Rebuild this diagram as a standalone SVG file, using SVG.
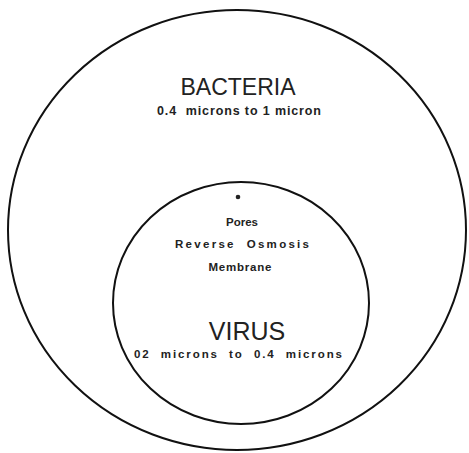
<svg xmlns="http://www.w3.org/2000/svg" width="469" height="453" viewBox="0 0 469 453">
<style>
.ring{fill:none;stroke:#111;stroke-width:2}
.big{font-family:"Liberation Sans",Arial,sans-serif;font-size:23px;fill:#222;text-anchor:middle}
.small{font-family:"Liberation Sans",Arial,sans-serif;font-size:11.5px;font-weight:bold;fill:#222;text-anchor:middle;white-space:pre}
</style>
<rect width="469" height="453" fill="#fff"/>
<g id="bacteria">
<ellipse class="ring" cx="237" cy="230" rx="229" ry="220"/>
<text class="big" x="238" y="95">BACTERIA</text>
<text class="small" x="239" y="115" style="font-size:12.5px;font-weight:600" textLength="164" lengthAdjust="spacing" xml:space="preserve">0.4  microns to 1 micron</text>
</g>
<g id="virus">
<ellipse class="ring" cx="241" cy="303" rx="128" ry="121"/>
<circle cx="238" cy="197" r="2.3" fill="#222"/>
<text class="small" x="242" y="226" textLength="32" lengthAdjust="spacing">Pores</text>
<text class="small" x="242" y="248" textLength="134" lengthAdjust="spacing" xml:space="preserve">Reverse  Osmosis</text>
<text class="small" x="240" y="271" textLength="63" lengthAdjust="spacing">Membrane</text>
<text class="big" x="247" y="340" style="font-size:25px">VIRUS</text>
<text class="small" x="238" y="358" textLength="208" lengthAdjust="spacing" xml:space="preserve">02  microns  to  0.4  microns</text>
</g>
</svg>
